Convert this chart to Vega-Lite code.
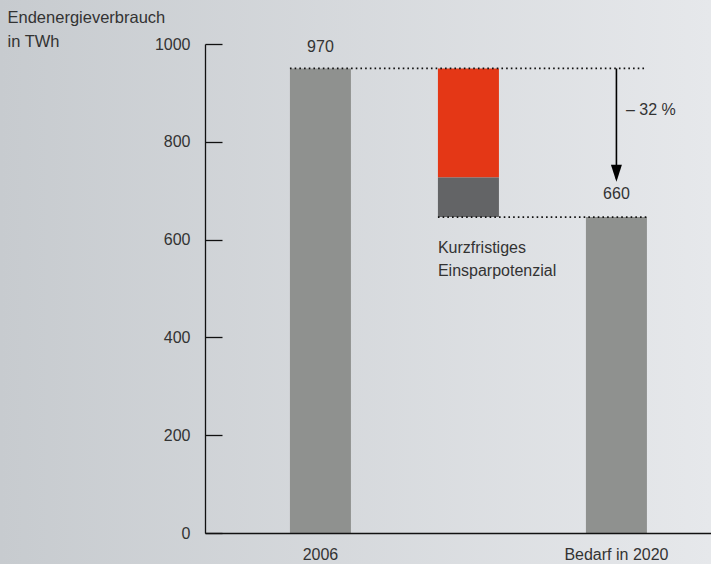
{
  "$schema": "https://vega.github.io/schema/vega-lite/v6.json",
  "width": 711,
  "height": 564,
  "autosize": "none",
  "padding": 0,
  "background": "#c8ccd0",
  "view": {
    "stroke": null,
    "fill": {
      "gradient": "linear",
      "x1": 0, "y1": 0, "x2": 1, "y2": 0,
      "stops": [
        {"offset": 0, "color": "#c7cbcf"},
        {"offset": 1, "color": "#e6e8eb"}
      ]
    }
  },
  "config": {
    "font": "Liberation Sans",
    "text": {"font": "Liberation Sans", "fontSize": 16, "color": "#333333"}
  },
  "datasets": {
    "bars": [
      {"cat": "2006", "part": "Verbrauch", "lo": 0, "hi": 950},
      {"cat": "mid", "part": "Einsparung", "lo": 727, "hi": 950},
      {"cat": "mid", "part": "Rest", "lo": 646, "hi": 727},
      {"cat": "Bedarf in 2020", "part": "Verbrauch", "lo": 0, "hi": 646}
    ],
    "dots": [
      {"from": "2006", "to": "Bedarf in 2020", "value": 950},
      {"from": "mid", "to": "Bedarf in 2020", "value": 646}
    ],
    "arrow": [
      {"cat": "Bedarf in 2020", "start": 950, "end": 725, "tip": 718.4}
    ],
    "centerLabels": [
      {"cat": "2006", "y": 983.4, "t": "970"},
      {"cat": "Bedarf in 2020", "y": 682.4, "t": "660"}
    ],
    "leftLabels": [
      {"cat": "mid", "y": 573.2, "t": "Kurzfristiges"},
      {"cat": "mid", "y": 525, "t": "Einsparpotenzial"}
    ],
    "pct": [
      {"cat": "Bedarf in 2020", "y": 854.8, "t": "– 32 %"}
    ]
  },
  "layer": [
    {
      "data": {"name": "bars"},
      "mark": {"type": "bar"},
      "encoding": {
        "x": {
          "field": "cat",
          "type": "nominal",
          "scale": {
            "domain": ["2006", "mid", "Bedarf in 2020"],
            "range": [205, 711],
            "paddingInner": 0.5878,
            "paddingOuter": 0.5034,
            "align": 0.57
          },
          "axis": {
            "title": null,
            "orient": "bottom",
            "offset": -31,
            "ticks": false,
            "labelPadding": 13,
            "labelAngle": 0,
            "labelFontSize": 16,
            "labelColor": "#333333",
            "labelFont": "Liberation Sans",
            "domainColor": "#111111",
            "domainWidth": 1.3,
            "labelExpr": "datum.value == 'mid' ? '' : datum.label",
            "zindex": 1
          }
        },
        "y": {
          "field": "hi",
          "type": "quantitative",
          "scale": {"domain": [0, 1000], "range": [533, 44], "nice": false},
          "axis": {
            "title": ["Endenergieverbrauch", "in TWh"],
            "titleAngle": 0,
            "titleAlign": "left",
            "titleBaseline": "alphabetic",
            "titleX": -198,
            "titleY": 22.5,
            "titleFontSize": 16.5,
            "titleFontWeight": "normal",
            "titleColor": "#333333",
            "titleFont": "Liberation Sans",
            "titleLineHeight": 24,
            "values": [0, 200, 400, 600, 800, 1000],
            "format": "d",
            "offset": -205,
            "tickSize": -17,
            "labelPadding": 32,
            "labelFlush": false,
            "grid": false,
            "domainColor": "#111111",
            "tickColor": "#111111",
            "domainWidth": 1.3,
            "tickWidth": 1.3,
            "labelFontSize": 16,
            "labelColor": "#333333",
            "labelFont": "Liberation Sans",
            "zindex": 1
          }
        },
        "y2": {"field": "lo"},
        "color": {
          "field": "part",
          "type": "nominal",
          "scale": {
            "domain": ["Verbrauch", "Einsparung", "Rest"],
            "range": ["#8f918f", "#e43716", "#636466"]
          },
          "legend": null
        }
      }
    },
    {
      "data": {"name": "dots"},
      "mark": {"type": "rule", "color": "#111111", "strokeWidth": 1.7, "strokeDash": [1.6, 3.1]},
      "encoding": {
        "x": {"field": "from", "type": "nominal", "bandPosition": 0},
        "x2": {"field": "to", "bandPosition": 1},
        "y": {"field": "value", "type": "quantitative"}
      }
    },
    {
      "data": {"name": "arrow"},
      "mark": {"type": "rule", "color": "#000000", "strokeWidth": 1.6},
      "encoding": {
        "x": {"field": "cat", "type": "nominal"},
        "y": {"field": "start", "type": "quantitative"},
        "y2": {"field": "end"}
      }
    },
    {
      "data": {"name": "arrow"},
      "mark": {"type": "point", "shape": "M-0.65,-2L0.65,-2L0,0Z", "size": 286, "filled": true, "color": "#000000", "opacity": 1, "strokeWidth": 0},
      "encoding": {
        "x": {"field": "cat", "type": "nominal"},
        "y": {"field": "tip", "type": "quantitative"}
      }
    },
    {
      "data": {"name": "centerLabels"},
      "mark": {"type": "text", "align": "center", "baseline": "alphabetic"},
      "encoding": {
        "x": {"field": "cat", "type": "nominal"},
        "y": {"field": "y", "type": "quantitative"},
        "text": {"field": "t"}
      }
    },
    {
      "data": {"name": "leftLabels"},
      "mark": {"type": "text", "align": "left", "baseline": "alphabetic"},
      "encoding": {
        "x": {"field": "cat", "type": "nominal", "bandPosition": 0},
        "y": {"field": "y", "type": "quantitative"},
        "text": {"field": "t"}
      }
    },
    {
      "data": {"name": "pct"},
      "mark": {"type": "text", "align": "left", "baseline": "alphabetic", "dx": 9.5},
      "encoding": {
        "x": {"field": "cat", "type": "nominal"},
        "y": {"field": "y", "type": "quantitative"},
        "text": {"field": "t"}
      }
    }
  ]
}
